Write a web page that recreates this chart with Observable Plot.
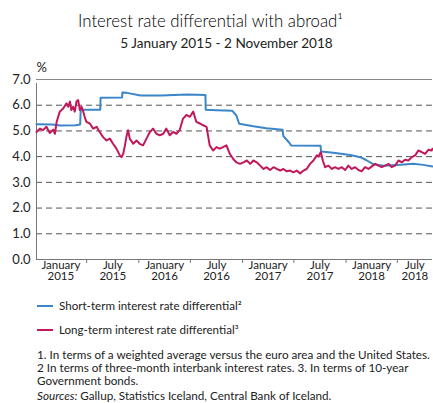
<!DOCTYPE html>
<html>
<head>
<meta charset="utf-8">
<script src="https://cdn.jsdelivr.net/npm/d3@7"></script>
<script src="https://cdn.jsdelivr.net/npm/@observablehq/plot@0.6"></script>
<style>
  html, body { margin: 0; padding: 0; background: #fff; }
  body { font-family: Lato, "Open Sans", sans-serif; color: #222; }
  #wrap { position: relative; width: 433px; height: 403px; overflow: hidden; }
  .abs { position: absolute; white-space: nowrap; }
  #title { left: -6px; width: 433px; text-align: center; top: 10px; font-size: 16.8px; font-weight: 300; color: #000; }
  #subtitle { left: 10px; width: 433px; text-align: center; top: 35px; font-size: 13.6px; color: #222; }
  #chart { left: 0; top: 58px; }
  .leg { left: 37px; font-size: 11.6px; display: flex; align-items: center; }
  .leg svg { margin-right: 6px; }
  .note { left: 37px; font-size: 11.7px; }
</style>
</head>
<body>
<div id="wrap">
  <div id="title" class="abs">Interest rate differential with abroad¹</div>
  <div id="subtitle" class="abs">5 January 2015 - 2 November 2018</div>
  <div id="chart" class="abs"></div>
  <div class="abs leg" style="top:299px"><svg width="16" height="4"><line x1="0" x2="16" y1="2" y2="2" stroke="#3b86c8" stroke-width="2"/></svg>Short-term interest rate differential²</div>
  <div class="abs leg" style="top:323px"><svg width="16" height="4"><line x1="0" x2="16" y1="2" y2="2" stroke="#c2185b" stroke-width="2"/></svg>Long-term interest rate differential³</div>
  <div class="abs note" style="top:347px">1. In terms of a weighted average versus the euro area and the United States.</div>
  <div class="abs note" style="top:360px">2 In terms of three-month interbank interest rates. 3. In terms of 10-year</div>
  <div class="abs note" style="top:373px">Government bonds.</div>
  <div class="abs note" style="top:388px"><i>Sources:</i> Gallup, Statistics Iceland, Central Bank of Iceland.</div>
</div>
<script>
// ---- data ----
const shortDates = ["2015-01-05","2015-03-02","2015-03-31","2015-05-23","2015-06-08","2015-06-10","2015-08-18","2015-08-19","2015-11-03","2015-11-04","2015-11-20","2016-01-07","2016-03-20","2016-06-20","2016-08-23","2016-08-24","2016-10-01","2016-11-26","2016-12-10","2016-12-20","2017-02-08","2017-03-26","2017-05-22","2017-05-25","2017-06-14","2017-06-22","2017-10-03","2017-10-05","2017-11-17","2018-01-16","2018-02-21","2018-03-14","2018-04-08","2018-05-13","2018-07-12","2018-08-27","2018-10-01","2018-11-02"];
const shortValues = [5.26,5.25,5.21,5.22,5.25,5.82,5.82,6.29,6.30,6.49,6.48,6.38,6.38,6.42,6.40,5.82,5.80,5.78,5.60,5.28,5.18,5.10,5.05,4.80,4.55,4.43,4.42,4.20,4.15,4.06,3.98,3.86,3.70,3.65,3.68,3.72,3.68,3.62];

const longDates = ["2015-01-05","2015-01-17","2015-01-28","2015-02-09","2015-02-21","2015-03-05","2015-03-11","2015-03-17","2015-03-28","2015-04-09","2015-04-21","2015-04-27","2015-05-03","2015-05-08","2015-05-14","2015-05-20","2015-05-26","2015-06-01","2015-06-07","2015-06-13","2015-06-19","2015-06-24","2015-06-30","2015-07-12","2015-07-24","2015-08-05","2015-08-16","2015-08-28","2015-09-09","2015-09-21","2015-10-02","2015-10-14","2015-10-26","2015-11-01","2015-11-07","2015-11-13","2015-11-18","2015-11-24","2015-11-30","2015-12-12","2015-12-24","2016-01-04","2016-01-16","2016-01-28","2016-02-09","2016-02-20","2016-03-03","2016-03-15","2016-03-27","2016-04-07","2016-04-19","2016-05-01","2016-05-13","2016-05-24","2016-06-05","2016-06-17","2016-06-29","2016-07-11","2016-07-22","2016-08-03","2016-08-15","2016-08-27","2016-09-07","2016-09-19","2016-10-01","2016-10-12","2016-10-24","2016-11-05","2016-11-17","2016-11-29","2016-12-10","2016-12-23","2017-01-04","2017-01-16","2017-01-28","2017-02-08","2017-02-20","2017-03-04","2017-03-16","2017-03-27","2017-04-08","2017-04-20","2017-05-02","2017-05-14","2017-05-25","2017-06-06","2017-06-18","2017-06-29","2017-07-11","2017-07-23","2017-08-04","2017-08-15","2017-08-27","2017-09-08","2017-09-20","2017-09-26","2017-10-04","2017-10-11","2017-10-19","2017-10-31","2017-11-12","2017-11-23","2017-12-05","2017-12-17","2017-12-29","2018-01-09","2018-01-21","2018-02-02","2018-02-14","2018-02-25","2018-03-09","2018-03-21","2018-04-02","2018-04-14","2018-04-25","2018-05-07","2018-05-19","2018-05-31","2018-06-11","2018-06-23","2018-07-05","2018-07-17","2018-07-28","2018-08-09","2018-08-21","2018-09-02","2018-09-13","2018-09-25","2018-10-07","2018-10-19","2018-10-30","2018-11-02"];
const longValues = [4.96,5.09,5.03,5.16,4.92,5.05,4.89,5.35,5.75,5.87,6.07,5.94,6.14,5.81,5.94,5.75,6.14,6.20,5.81,5.94,5.75,5.55,5.35,5.29,5.09,5.16,4.96,4.76,4.63,4.70,4.50,4.31,4.05,3.98,4.11,4.44,4.76,5.03,4.70,4.50,4.63,4.50,4.44,4.70,4.96,5.09,4.89,4.83,4.89,5.09,4.83,4.96,4.89,5.03,5.48,5.62,5.55,5.75,5.35,5.29,5.22,5.16,4.44,4.24,4.37,4.31,4.37,4.44,4.11,3.91,3.78,3.72,3.78,3.85,3.72,3.85,3.78,3.65,3.52,3.59,3.48,3.59,3.52,3.46,3.52,3.43,3.46,3.39,3.46,3.35,3.46,3.52,3.72,3.85,4.05,4.01,4.18,3.85,3.59,3.65,3.52,3.59,3.52,3.59,3.48,3.65,3.52,3.59,3.48,3.43,3.59,3.52,3.62,3.72,3.65,3.59,3.65,3.72,3.59,3.65,3.85,3.78,3.88,3.85,3.98,4.05,4.24,4.18,4.11,4.27,4.24,4.31];

const yTicks = [0, 1, 2, 3, 4, 5, 6, 7];
const gridValues = [1, 2, 3, 4, 5, 6];
const xTickDates = ["2015-07-01","2016-01-01","2016-07-01","2017-01-01","2017-07-01","2018-01-01","2018-07-01"];
const xLabelDates = ["2015-04-01","2015-10-01","2016-04-01","2016-10-01","2017-04-01","2017-10-01","2018-04-01","2018-09-01"];
const xLabelTexts = ["January\n2015","July\n2015","January\n2016","July\n2016","January\n2017","July\n2017","January\n2018","July\n2018"];
const xDomain = ["2015-01-05", "2018-11-02"];

// ---- build ----
const P = s => new Date(s + "T00:00:00Z");
const shortData = shortDates.map((d, i) => ({date: P(d), value: shortValues[i]}));
const longData = longDates.map((d, i) => ({date: P(d), value: longValues[i]}));
const labelMap = new Map(xLabelDates.map((d, i) => [+P(d), xLabelTexts[i]]));

const chart = Plot.plot({
  width: 433,
  height: 236,
  marginTop: 21,
  marginBottom: 35,
  marginLeft: 36,
  marginRight: 1,
  style: {fontFamily: "Lato, sans-serif", color: "#222", background: "transparent"},
  x: {type: "utc", domain: xDomain.map(P)},
  y: {domain: [0, 7]},
  marks: [
    Plot.ruleY(gridValues, {stroke: "#555", strokeDasharray: "6,4", strokeWidth: 1}),
    Plot.ruleY([7], {stroke: "#888", strokeWidth: 1}),
    Plot.ruleY([0], {stroke: "#777", strokeWidth: 1}),
    Plot.ruleX([P(xDomain[0])], {y1: 0, y2: 7, stroke: "#777", strokeWidth: 1, insetBottom: -4}),
    Plot.axisY({ticks: yTicks, tickSize: 0, tickPadding: 6, tickFormat: d => d.toFixed(1), fontSize: 13, label: null}),
    Plot.axisX({ticks: xTickDates.map(P), tickSize: 4, tickFormat: () => "", stroke: "#777", label: null}),
    Plot.axisX({ticks: xLabelDates.map(P), tickSize: 0, tickPadding: 1, tickFormat: d => labelMap.get(+d), fontSize: 11.5, lineHeight: 1.0, label: null}),
    Plot.text(["%"], {frameAnchor: "top-left", textAnchor: "start", dx: 0, dy: -17, fontSize: 13}),
    Plot.line(shortData, {x: "date", y: "value", stroke: "#3b86c8", strokeWidth: 2}),
    Plot.line(longData, {x: "date", y: "value", stroke: "#c2185b", strokeWidth: 2})
  ]
});
document.getElementById("chart").appendChild(chart);
</script>
</body>
</html>
